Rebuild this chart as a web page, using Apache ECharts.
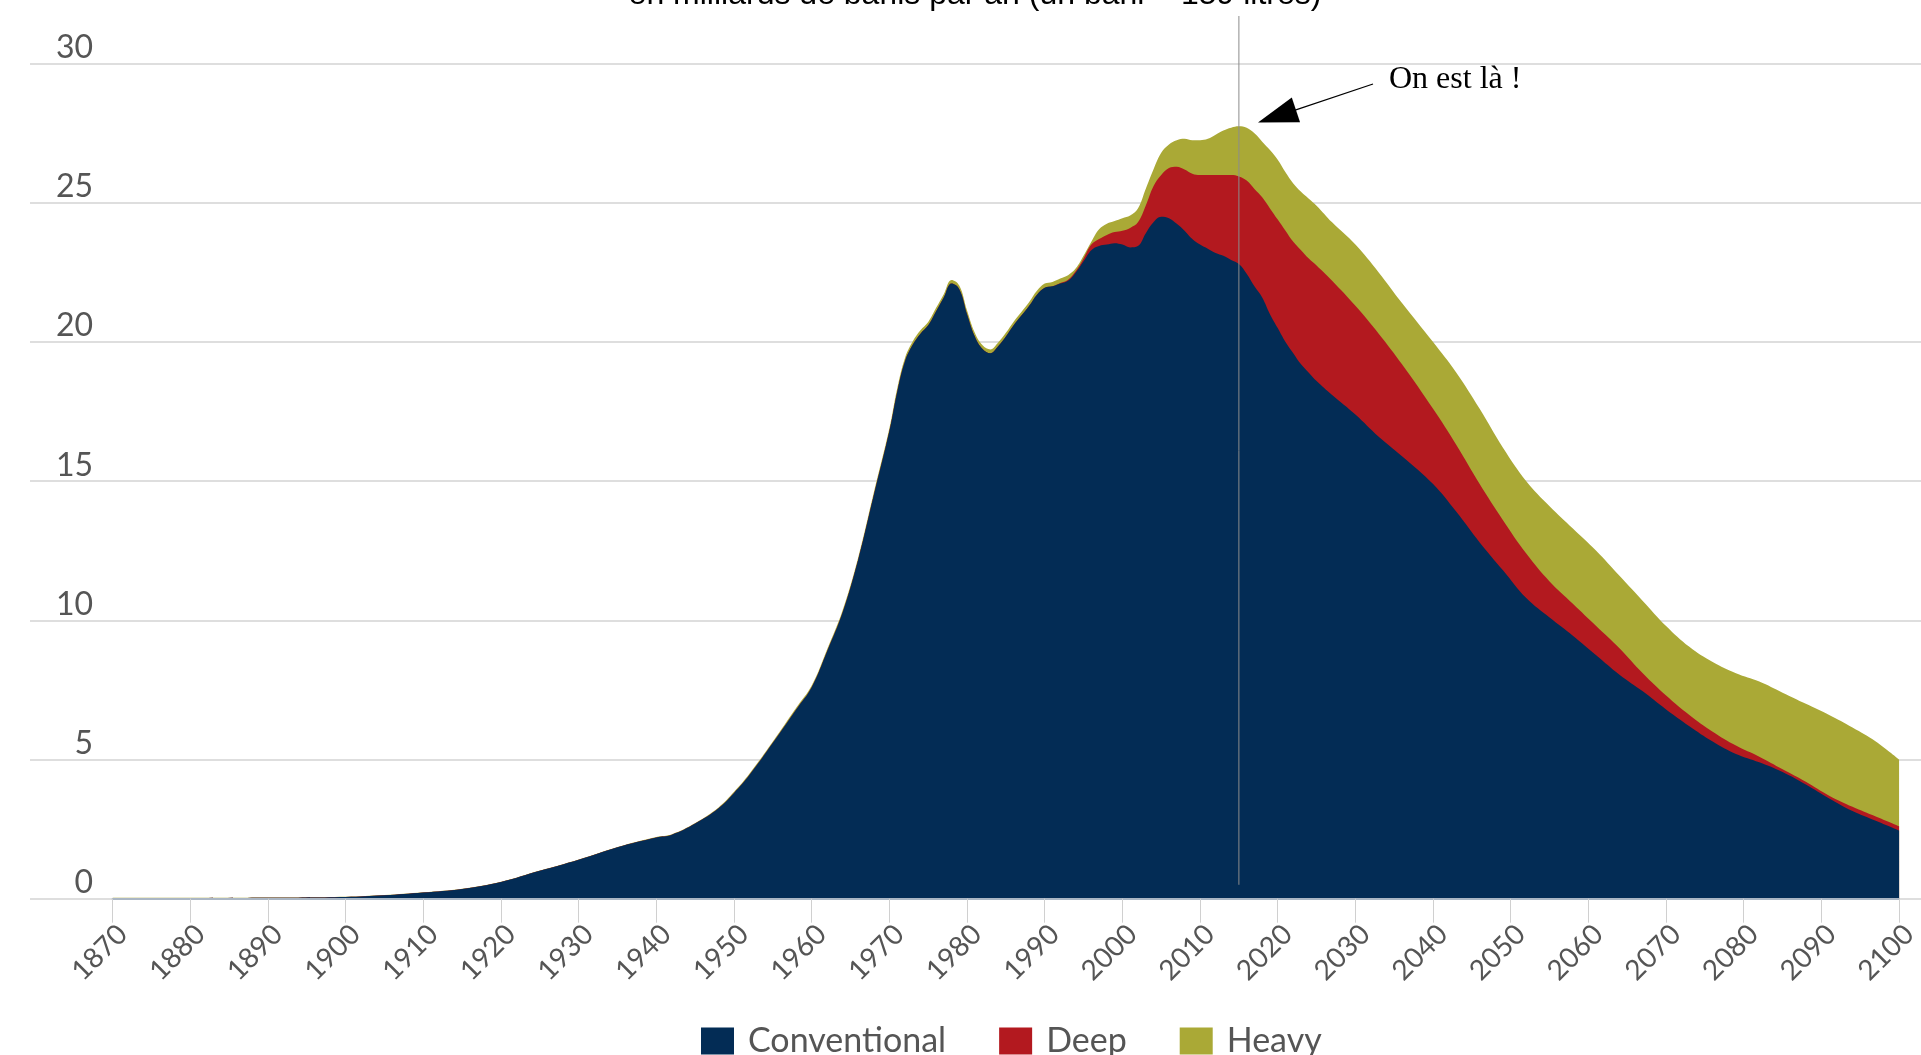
<!DOCTYPE html>
<html><head><meta charset="utf-8">
<script src="https://cdn.jsdelivr.net/npm/echarts@6/dist/echarts.min.js"></script>
<style>html,body{margin:0;padding:0;background:#fff;overflow:hidden}#c{width:1921px;height:1055px}</style>
</head><body><div id="c"></div>
<script>
const years = [1870,1880,1890,1900,1905,1910,1915,1920,1925,1930,1935,1940,1942,1945,1948,1950,1952,1955,1958,1960,1962,1964,1966,1968,1970,1971,1972,1973,1974,1975,1976,1977,1978,1979,1980,1981,1982,1983,1984,1985,1986,1987,1988,1989,1990,1991,1992,1993,1994,1995,1996,1997,1998,1999,2000,2001,2002,2003,2004,2005,2006,2007,2008,2009,2010,2011,2012,2013,2014,2015,2016,2017,2018,2019,2020,2021,2022,2023,2024,2025,2027,2030,2033,2036,2040,2043,2046,2049,2052,2055,2058,2061,2064,2067,2070,2073,2076,2079,2082,2085,2088,2091,2094,2097,2100];
const conventional = [0.02,0.02,0.03,0.06,0.12,0.22,0.35,0.6,1.0,1.4,1.85,2.2,2.3,2.7,3.25,3.8,4.45,5.6,6.8,7.6,8.9,10.3,12.2,14.5,16.8,18.2,19.3,19.9,20.3,20.6,21.1,21.6,22.1,21.9,21.0,20.2,19.75,19.6,19.85,20.2,20.6,20.95,21.3,21.7,21.95,22.0,22.1,22.2,22.5,22.9,23.3,23.45,23.5,23.55,23.5,23.4,23.45,23.9,24.3,24.5,24.45,24.25,24.0,23.7,23.5,23.35,23.2,23.1,22.95,22.8,22.45,22.0,21.6,21.0,20.5,20.0,19.6,19.2,18.9,18.6,18.1,17.4,16.6,15.9,14.9,13.9,12.8,11.8,10.8,10.1,9.45,8.75,8.05,7.45,6.8,6.2,5.65,5.2,4.9,4.55,4.1,3.6,3.15,2.8,2.45];
const deep = [0,0,0,0,0,0,0,0,0,0,0,0,0,0,0,0,0,0,0,0,0,0,0,0,0,0,0,0,0,0,0,0,0,0,0,0,0,0,0,0,0,0,0,0,0,0,0.02,0.04,0.05,0.1,0.2,0.25,0.35,0.4,0.5,0.7,0.85,1.0,1.3,1.5,1.8,2.05,2.2,2.35,2.5,2.65,2.8,2.9,3.05,3.15,3.35,3.5,3.6,3.8,3.9,4.0,4.0,4.1,4.1,4.15,4.1,3.9,3.7,3.3,2.7,2.4,2.1,1.8,1.6,1.3,1.15,1.05,0.95,0.65,0.5,0.4,0.35,0.3,0.2,0.1,0.1,0.1,0.15,0.15,0.15];
const heavy = [0.01,0.01,0.01,0.01,0.01,0.01,0.01,0.01,0.01,0.01,0.01,0.02,0.02,0.02,0.03,0.04,0.05,0.05,0.06,0.06,0.07,0.08,0.08,0.1,0.1,0.12,0.12,0.12,0.12,0.12,0.12,0.12,0.13,0.13,0.13,0.13,0.13,0.13,0.13,0.13,0.13,0.13,0.14,0.14,0.15,0.16,0.16,0.16,0.1,0.1,0.1,0.35,0.4,0.4,0.45,0.45,0.5,0.6,0.6,0.8,0.85,0.95,1.1,1.2,1.25,1.3,1.45,1.6,1.7,1.8,1.9,2.0,2.0,2.1,2.15,2.1,2.1,2.1,2.15,2.15,2.1,2.2,2.2,2.2,2.4,2.6,2.7,2.6,2.6,2.7,2.7,2.7,2.6,2.6,2.5,2.45,2.5,2.6,2.7,2.75,2.8,2.9,2.85,2.7,2.4];
const seriesNames = ['Conventional', 'Deep', 'Heavy'];
const seriesColors = ['#032c55', '#b3191f', '#aaa936'];
const yTicks = [0, 5, 10, 15, 20, 25, 30];
const xRange = [1870, 2100];
const xStep = 10;
const titleText = 'en milliards de barils par an (un baril = 159 litres)';
const noteText = 'On est là !';
const nowYear = 2015;

// cumulative tops of the stacked layers
const layers = [conventional, deep, heavy];
const tops = [];
layers.forEach((arr, k) => {
  tops.push(arr.map((v, i) => v + (k > 0 ? tops[k - 1][i] : 0)));
});

const chart = echarts.init(document.getElementById('c'), null, {renderer: 'canvas'});
const labelFont = 'Lato';
const option = {
  animation: false,
  backgroundColor: '#ffffff',
  grid: [
    {left: 112.7, right: 20.8, top: 63.7, bottom: 156.3},
    {left: 30, right: 0, top: 63.7, bottom: 156.3}
  ],
  legend: {
    left: 696, top: 1019, itemWidth: 33, itemHeight: 27, itemGap: 53, icon: 'rect',
    data: seriesNames,
    textStyle: {fontFamily: labelFont, fontSize: 34, color: '#555555', padding: [0, 0, 0, 9]}
  },
  xAxis: [
    {
      type: 'value', gridIndex: 0, min: xRange[0], max: xRange[1], interval: xStep, z: 10,
      axisLine: {show: true, lineStyle: {color: '#aab6c4', width: 2}},
      axisTick: {show: true, length: 24, lineStyle: {color: '#d0d0d0', width: 1}},
      splitLine: {show: false},
      axisLabel: {rotate: 45, margin: 21, verticalAlign: 'top', fontFamily: labelFont, fontSize: 28, color: '#555555', formatter: v => String(v)}
    },
    {type: 'value', gridIndex: 1, min: 0, max: 1, show: false}
  ],
  yAxis: [
    {type: 'value', gridIndex: 0, min: yTicks[0], max: yTicks[yTicks.length - 1], interval: yTicks[1] - yTicks[0], show: false, splitLine: {show: false}},
    {
      type: 'value', gridIndex: 1, min: yTicks[0], max: yTicks[yTicks.length - 1], interval: yTicks[1] - yTicks[0],
      axisLine: {show: false}, axisTick: {show: false},
      splitLine: {show: true, lineStyle: {color: '#dedede', width: 2}},
      axisLabel: {inside: true, margin: 63, align: 'right', verticalAlign: 'bottom', fontFamily: labelFont, fontSize: 32, color: '#555555'}
    }
  ],
  series: seriesNames.map((name, k) => ({
    name: name,
    type: 'line',
    xAxisIndex: 0, yAxisIndex: 0,
    z: 5 - k,
    smooth: 0.4,
    showSymbol: false,
    symbol: 'none',
    lineStyle: {width: 0},
    itemStyle: {color: seriesColors[k]},
    areaStyle: {color: seriesColors[k], opacity: 1},
    data: years.map((y, i) => [y, tops[k][i]])
  }))
};
chart.setOption(option);

const xNow = chart.convertToPixel({xAxisIndex: 0}, nowYear);
const yBottom = chart.convertToPixel({yAxisIndex: 0}, 0.5);
const tip = [1258, 122.5], tail = [1373, 84];
const dx = tip[0] - tail[0], dy = tip[1] - tail[1];
const len = Math.sqrt(dx * dx + dy * dy);
const ux = dx / len, uy = dy / len, nx = -uy, ny = ux;
const headL = 40, headW = 13;
const bx = tip[0] - headL * ux, by = tip[1] - headL * uy;
chart.setOption({
  graphic: [
    {type: 'line', z: 100, shape: {x1: xNow, y1: 16, x2: xNow, y2: yBottom}, style: {stroke: '#8c8c8c', lineWidth: 1}},
    {type: 'text', z: 100, x: 975, y: 11, style: {text: titleText, fontFamily: 'Liberation Sans', fontSize: 32, fill: '#000000', align: 'center', verticalAlign: 'bottom'}},
    {type: 'text', z: 100, x: 1389, y: 64, style: {text: noteText, fontFamily: 'Liberation Serif', fontSize: 32, fill: '#000000', align: 'left', verticalAlign: 'top'}},
    {type: 'line', z: 100, shape: {x1: tail[0], y1: tail[1], x2: bx + 4 * ux, y2: by + 4 * uy}, style: {stroke: '#000000', lineWidth: 1.3}},
    {type: 'polygon', z: 100, shape: {points: [tip, [bx + headW * nx, by + headW * ny], [bx - headW * nx, by - headW * ny]]}, style: {fill: '#000000'}}
  ]
});
</script>
</body></html>
